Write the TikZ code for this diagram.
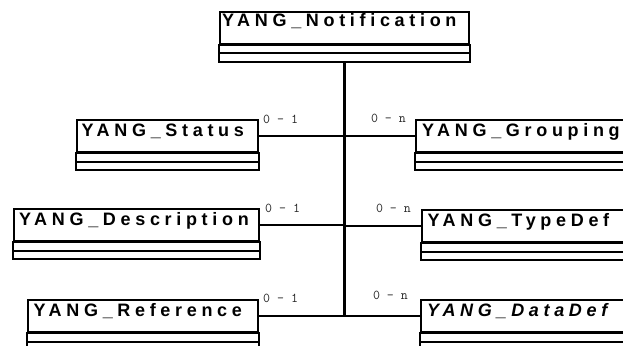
\documentclass[tikz,border=0pt]{standalone}
\usepackage{fontspec}
\setmainfont{Liberation Sans}
\newfontfamily\clsfont[LetterSpace=26]{Liberation Sans}
\usetikzlibrary{calc}
\begin{document}
\begin{tikzpicture}[x=1pt,y=-1pt,
  cls/.style={draw,line width=2pt,rectangle,inner sep=0pt,minimum height=32pt,anchor=north west,fill=white},
  comp/.style={draw,line width=2pt,fill=white},
  clsname/.style={anchor=base west,inner sep=0pt,font=\clsfont\bfseries\fontsize{18}{20}\selectfont},
  mult/.style={inner sep=0pt,font=\ttfamily\fontsize{13.5}{14}\selectfont,text=black!85},
  link/.style={line width=1.6pt},
  trunk/.style={line width=2.4pt}]
\useasboundingbox (0,0) rectangle (623,345);
\clip (0,0) rectangle (623,345);
% class title boxes
\node[cls,minimum width=249pt] (notif) at (219,11) {};
\node[cls,minimum width=181pt] (status) at (76,119) {};
\node[cls,minimum width=260pt] (group) at (415,119) {};
\node[cls,minimum width=245pt] (desc) at (13,208) {};
\node[cls,minimum width=250pt] (tdef) at (421,209) {};
\node[cls,minimum width=230pt] (ref) at (27,299) {};
\node[cls,minimum width=250pt] (ddef) at (420,299) {};
% names
\node[clsname] (notifN) at ($(notif.north west)+(3,16)$) {YANG\_Notification};
\node[clsname] (statusN) at ($(status.north west)+(5.5,17.5)$) {YANG\_Status};
\node[clsname] (groupN) at ($(group.north west)+(7,17.5)$) {YANG\_Grouping};
\node[clsname] (descN) at ($(desc.north west)+(6,17.5)$) {YANG\_Description};
\node[clsname] (tdefN) at ($(tdef.north west)+(6.5,17)$) {YANG\_TypeDef};
\node[clsname] (refN) at ($(ref.north west)+(6.5,17)$) {YANG\_Reference};
\node[clsname,font=\clsfont\bfseries\itshape\fontsize{18}{20}\selectfont] (ddefN) at ($(ddef.north west)+(7,17)$) {YANG\_DataDef};
% trunk
\draw[trunk] (notif.south) -- (notif.south |- ref.east);
% compartments
\foreach \n in {notif,status,group,desc,tdef,ref,ddef}{
  \draw[comp] (\n.south west) rectangle ($(\n.south east)+(0,8.5)$);
  \draw[comp] ($(\n.south west)+(0,8.5)$) rectangle ($(\n.south east)+(0,17)$);
}
% connectors
\draw[link] (status.east) -- (status.east -| notif.south);
\draw[link] (desc.east) -- (desc.east -| notif.south);
\draw[link] (ref.east) -- (ref.east -| notif.south);
\draw[link] (group.west) -- (group.west -| notif.south);
\draw[link] (tdef.west) -- (tdef.west -| notif.south);
\draw[link] (ddef.west) -- (ddef.west -| notif.south);
% multiplicities
\node[mult,anchor=west] (m1) at ($(status.north east)+(4,0)$) {0 - 1};
\node[mult,anchor=west] (m2) at ($(desc.north east)+(5,0)$) {0 - 1};
\node[mult,anchor=west] (m3) at ($(ref.north east)+(4,-1)$) {0 - 1};
\node[mult,anchor=east] (m4) at ($(group.north west)+(-9,-1)$) {0 - n};
\node[mult,anchor=east] (m5) at ($(tdef.north west)+(-10,-1)$) {0 - n};
\node[mult,anchor=east] (m6) at ($(ddef.north west)+(-12,-4)$) {0 - n};
\end{tikzpicture}
\end{document}
